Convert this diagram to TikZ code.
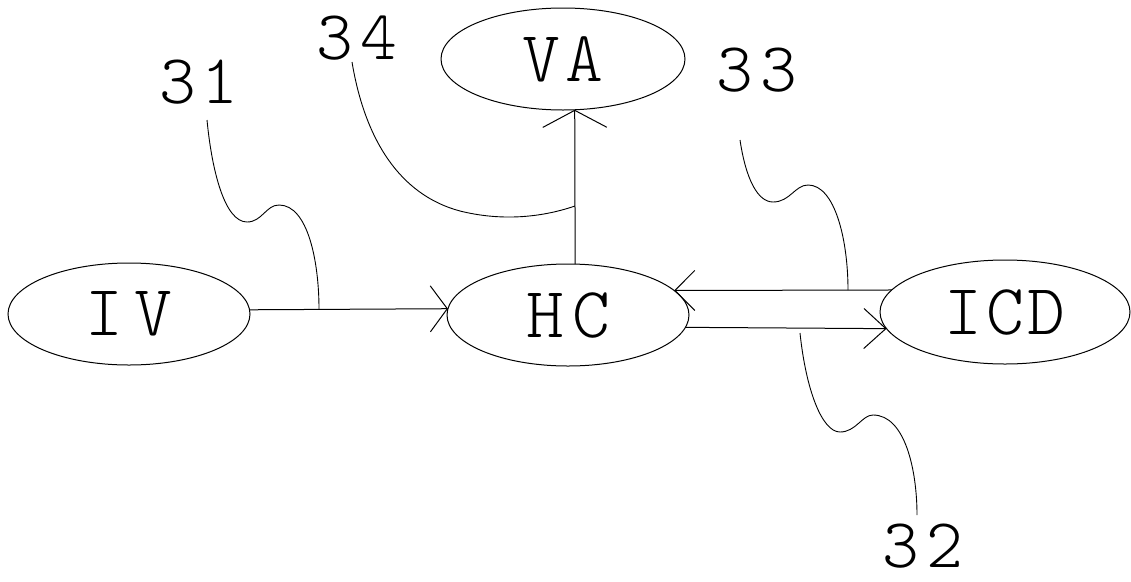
\documentclass[tikz,border=0pt]{standalone}
\usepackage{fontspec}
\newfontfamily\plotfont{Latin Modern Mono Light}
\usetikzlibrary{arrows.meta,shapes.geometric}
\begin{document}
\begin{tikzpicture}[x=1pt,y=-1pt,line width=1pt,
  blob/.style={ellipse,draw,inner sep=0pt,outer sep=0pt,minimum width=242pt,minimum height=102pt,font=\fontsize{72}{72}\selectfont\plotfont},
  tag/.style={inner sep=0pt,font=\fontsize{70}{70}\selectfont\plotfont},
  lead/.style={line width=0.9pt}]
\useasboundingbox (0,0) rectangle (1131,581);
% ellipses
\node[blob] (IV) at (129,314) {I\hspace{12pt}V};
\node[blob] (HC) at (568,315) {H\hspace{8pt}C};
\node[blob,minimum width=244pt] (VA) at (563,59) {V\hspace{6pt}A};
\node[blob,minimum width=250pt,minimum height=104pt] (ICD) at (1005,312) {I\hspace{4pt}C\hspace{4pt}D};
% labels
\node[tag] (t31) at (199,82) {3\hspace{5pt}1};
\node[tag] (t34) at (357,38) {3\hspace{7pt}4};
\node[tag] (t33) at (757,70) {3\hspace{7pt}3};
\node[tag] (t32) at (923,546) {3\hspace{7pt}2};
% connectors
\draw[-{Straight Barb[length=17pt,width=46pt]}] (IV.2) -- (HC.177);
\draw[-{Straight Barb[length=17pt,width=64pt]}] (HC.82) -- (VA.-77);
\draw[-{Straight Barb[length=20pt,width=40pt]}] (ICD.169) -- (HC.13);
\draw[-{Straight Barb[length=22pt,width=40pt]}] (HC.-6) -- (ICD.188);
% leader coordinates
\coordinate (s31) at (207,120); \coordinate (e31) at (319,309);
\coordinate (s34) at (352,62);  \coordinate (e34) at (575,206);
\coordinate (s33) at (740,140); \coordinate (e33) at (848,290);
\coordinate (s32) at (917,515); \coordinate (e32) at (800,333);
% leader curves
\draw[lead] (s31) .. controls (212,172) and (225,222) .. (247,222)
  .. controls (262,222) and (266,205) .. (279,205)
  .. controls (308,205) and (319,262) .. (e31);
\draw[lead] (s34) .. controls (365,140) and (400,195) .. (460,211)
  .. controls (500,221) and (540,218) .. (e34);
\draw[lead] (s33) .. controls (746,180) and (758,202) .. (773,202)
  .. controls (790,202) and (795,185) .. (808,185)
  .. controls (835,185) and (848,240) .. (e33);
\draw[lead] (e32) .. controls (806,390) and (822,432) .. (840,432)
  .. controls (856,432) and (862,415) .. (873,415)
  .. controls (905,415) and (917,470) .. (s32);
\end{tikzpicture}
\end{document}
